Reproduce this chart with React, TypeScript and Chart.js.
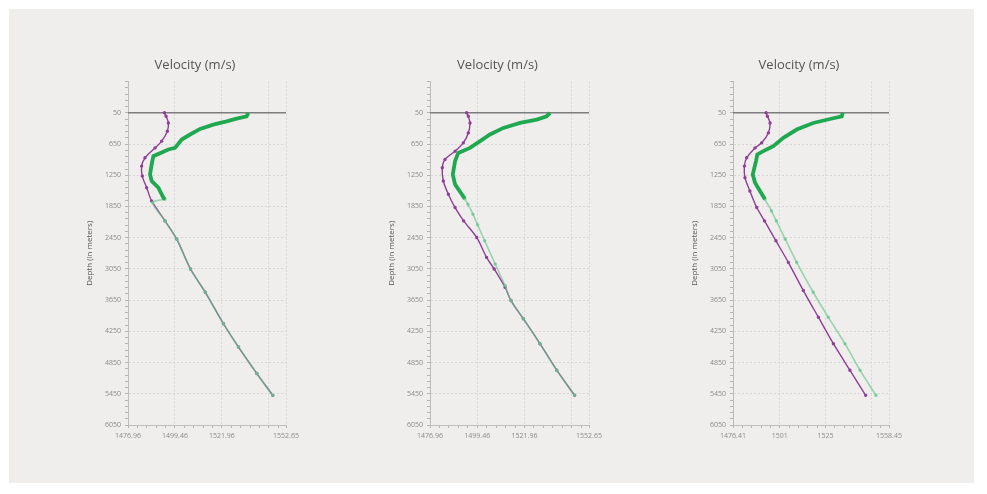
import React, { useEffect, useRef } from 'react';
import { Chart, registerables } from 'chart.js';

Chart.register(...registerables);

// ---------- shared axis data ----------
const DEPTH_MIN = -550;
const DEPTH_MAX = 6050;
const depthTicks = [50, 650, 1250, 1850, 2450, 3050, 3650, 4250, 4850, 5450, 6050];
const SURFACE_DEPTH = 50;

// ---------- panel 1 ----------
const p1VelTicks = [1476.96, 1499.46, 1521.96, 1544.46, 1552.65];
const p1VelLabels = ['1476.96', '1499.46', '1521.96', '', '1552.65'];
const p1PurpleDepth = [50, 117, 245, 404, 595, 724, 915, 1074, 1265, 1489, 1744, 2127, 2477, 3051, 3499, 4104, 4552, 5061, 5480];
const p1PurpleVel = [1494.4, 1495.2, 1496.3, 1495.8, 1493.1, 1489.9, 1485.1, 1483.5, 1483.8, 1485.9, 1488.3, 1494.7, 1500.3, 1506.9, 1514.0, 1522.7, 1529.9, 1538.7, 1546.3];
const p1MeasDepth = [50, 117, 161, 213, 276, 360, 467, 563, 724, 754, 883, 1041, 1233, 1361, 1489, 1680, 1712];
const p1MeasVel = [1534.6, 1533.8, 1529.0, 1524.2, 1517.8, 1511.5, 1506.7, 1502.7, 1499.5, 1496.3, 1489.1, 1488.3, 1487.5, 1488.3, 1491.5, 1493.9, 1494.7];
const p1ModelDepth = [1712, 1776, 2127, 2477, 3051, 3499, 4104, 4552, 5061, 5480];
const p1ModelVel = [1494.7, 1488.8, 1494.7, 1500.3, 1506.9, 1514.0, 1522.7, 1529.9, 1538.7, 1546.3];

// ---------- panel 2 ----------
const p2VelTicks = [1476.96, 1499.46, 1521.96, 1544.46, 1552.65];
const p2VelLabels = ['1476.96', '1499.46', '1521.96', '', '1552.65'];
const p2PurpleDepth = [50, 117, 245, 436, 627, 787, 946, 1106, 1361, 1616, 1871, 2127, 2446, 2829, 3051, 3403, 3658, 4008, 4487, 4997, 5480];
const p2PurpleVel = [1494.4, 1495.2, 1496.0, 1495.2, 1492.8, 1488.9, 1484.1, 1482.8, 1483.3, 1485.7, 1488.9, 1493.0, 1499.2, 1503.9, 1507.5, 1512.7, 1515.5, 1521.4, 1529.3, 1537.3, 1545.8];
const p2MeasDepth = [50, 117, 180, 245, 340, 467, 595, 724, 820, 978, 1233, 1425, 1616, 1700];
const p2MeasVel = [1534.1, 1532.5, 1527.8, 1519.8, 1511.9, 1505.5, 1500.8, 1496.0, 1490.4, 1488.9, 1487.8, 1488.9, 1492.1, 1493.5];
const p2ModelDepth = [1700, 1807, 1999, 2200, 2510, 2956, 3371, 3658, 4008, 4487, 4997, 5480];
const p2ModelVel = [1493.5, 1495.0, 1497.4, 1499.6, 1503.0, 1508.0, 1512.7, 1515.5, 1521.4, 1529.3, 1537.3, 1545.8];

// ---------- panel 3 ----------
const p3VelTicks = [1476.41, 1501, 1525, 1549, 1558.45];
const p3VelLabels = ['1476.41', '1501', '1525', '', '1558.45'];
const p3PurpleDepth = [50, 117, 245, 436, 627, 724, 915, 1074, 1297, 1553, 1871, 2127, 2510, 2924, 3466, 3978, 4487, 4997, 5480];
const p3PurpleVel = [1493.8, 1494.5, 1495.9, 1495.0, 1491.5, 1488.0, 1483.6, 1482.4, 1482.7, 1485.3, 1488.9, 1493.0, 1499.0, 1505.5, 1513.4, 1521.3, 1529.2, 1537.9, 1546.2];
const p3MeasDepth = [50, 117, 169, 245, 372, 532, 691, 754, 850, 978, 1233, 1393, 1553, 1712];
const p3MeasVel = [1534.1, 1533.6, 1527.4, 1518.6, 1509.9, 1502.9, 1497.6, 1494.1, 1489.2, 1488.5, 1486.8, 1488.0, 1490.6, 1493.2];
const p3ModelDepth = [1712, 1935, 2127, 2477, 2924, 3499, 3978, 4487, 4997, 5480];
const p3ModelVel = [1493.2, 1496.6, 1499.2, 1503.9, 1509.9, 1518.6, 1526.5, 1535.3, 1543.2, 1551.6];

const FONT = "'Open Sans', 'Noto Sans', sans-serif";
const PURPLE = '#8e3f95';
const GREEN = '#1fa84f';
const GREEN_LIGHT = 'rgba(104, 196, 138, 0.65)';

type PanelProps = {
  left: number;
  top: number;
  width: number;
  height: number;
  velTicks: number[];
  velLabels: string[];
  purpleDepth: number[];
  purpleVel: number[];
  measDepth: number[];
  measVel: number[];
  modelDepth: number[];
  modelVel: number[];
};

const zip = (xs: number[], ys: number[]) => xs.map((x, i) => ({ x, y: ys[i] }));

const near = (a: number, b: number) => Math.abs(a - b) < 1e-6;

function withMinors(majors: number[], start: number, end: number, subdiv: number) {
  const step = (majors[1] - majors[0]) / subdiv;
  const out: number[] = [];
  for (let v = majors[0] - step; v > start - 1e-6; v -= step) out.push(v);
  for (let i = 0; i < majors.length; i++) {
    out.push(majors[i]);
    const next = i + 1 < majors.length ? majors[i + 1] : end;
    for (let v = majors[i] + step; v < next - step * 0.3; v += step) out.push(v);
  }
  return out.sort((a, b) => a - b);
}

function Panel(props: PanelProps) {
  const ref = useRef<HTMLCanvasElement | null>(null);
  useEffect(() => {
    if (!ref.current) return;
    const xMin = props.velTicks[0];
    const xMax = props.velTicks[props.velTicks.length - 1];
    const xAll = withMinors(props.velTicks, xMin, xMax, 5);
    const yAll = withMinors(depthTicks, DEPTH_MIN, DEPTH_MAX, 5);
    const xIsMajor = (v: number) => props.velTicks.some((t) => near(t, v));
    const yIsMajor = (v: number) => depthTicks.some((t) => near(t, v));

    const chart = new Chart(ref.current, {
      type: 'line',
      data: {
        datasets: [
          {
            label: 'measured',
            data: zip(props.measVel, props.measDepth),
            borderColor: GREEN,
            backgroundColor: GREEN,
            borderWidth: 3.8,
            pointRadius: 0,
            tension: 0,
            order: 0,
          },
          {
            label: 'model',
            data: zip(props.modelVel, props.modelDepth),
            borderColor: GREEN_LIGHT,
            backgroundColor: GREEN_LIGHT,
            borderWidth: 1.6,
            pointRadius: 1,
            tension: 0.3,
            order: 1,
          },
          {
            label: 'profile',
            data: zip(props.purpleVel, props.purpleDepth),
            borderColor: PURPLE,
            backgroundColor: PURPLE,
            borderWidth: 1.4,
            pointRadius: 1,
            tension: 0.3,
            order: 2,
          },
          {
            label: 'surface',
            data: [
              { x: xMin, y: SURFACE_DEPTH },
              { x: xMax, y: SURFACE_DEPTH },
            ],
            borderColor: '#7d7d7d',
            borderWidth: 1.5,
            pointRadius: 0,
            order: 3,
          },
        ],
      },
      options: {
        animation: false,
        responsive: true,
        maintainAspectRatio: false,
        layout: { padding: { left: 0, right: 0, top: 0, bottom: 0 } },
        plugins: {
          legend: { display: false },
          tooltip: { enabled: false },
          title: {
            display: true,
            text: 'Velocity (m/s)',
            color: '#555555',
            font: { family: FONT, size: 13, weight: 'normal' },
            padding: { top: 7, bottom: 9 },
          },
        },
        scales: {
          x: {
            type: 'linear',
            min: xMin,
            max: xMax,
            afterBuildTicks: (scale: any) => {
              scale.ticks = xAll.map((v) => ({ value: v }));
            },
            afterFit: (scale: any) => {
              scale.height = 25;
            },
            ticks: {
              autoSkip: false,
              maxRotation: 0,
              padding: 4,
              color: '#8a8a8a',
              font: { family: FONT, size: 7 },
              callback: (value: any) => {
                const i = props.velTicks.findIndex((t) => near(t, Number(value)));
                return i >= 0 ? props.velLabels[i] : '';
              },
            },
            grid: {
              color: (ctx: any) => (ctx.tick && xIsMajor(ctx.tick.value) ? '#d6d6d6' : 'rgba(0,0,0,0)'),
              tickColor: '#b5b5b5',
              tickLength: 3,
              lineWidth: 1,
            },
            border: { display: true, color: '#bdbdbd', width: 1, dash: [2, 2] },
          },
          y: {
            type: 'linear',
            reverse: true,
            min: DEPTH_MIN,
            max: DEPTH_MAX,
            afterBuildTicks: (scale: any) => {
              scale.ticks = yAll.map((v) => ({ value: v }));
            },
            afterFit: (scale: any) => {
              scale.width = 43;
            },
            title: {
              display: true,
              text: 'Depth (in meters)',
              color: '#555555',
              font: { family: FONT, size: 8 },
              padding: { top: 0, bottom: 0 },
            },
            ticks: {
              autoSkip: false,
              padding: 4,
              color: '#8a8a8a',
              font: { family: FONT, size: 7 },
              callback: (value: any) => {
                const v = Number(value);
                return yIsMajor(v) ? String(Math.round(v)) : '';
              },
            },
            grid: {
              color: (ctx: any) => (ctx.tick && yIsMajor(ctx.tick.value) ? '#d6d6d6' : 'rgba(0,0,0,0)'),
              tickColor: '#b5b5b5',
              tickLength: 3,
              lineWidth: 1,
            },
            border: { display: true, color: '#bdbdbd', width: 1, dash: [2, 2] },
          },
          spacer: {
            type: 'linear',
            position: 'right',
            display: true,
            afterFit: (scale: any) => {
              scale.width = 19;
            },
            ticks: { display: false },
            grid: { display: false, drawTicks: false },
            border: { display: false },
          },
        },
      },
    } as any);
    return () => chart.destroy();
  }, []);

  return (
    <div
      style={{
        position: 'absolute',
        left: props.left,
        top: props.top,
        width: props.width,
        height: props.height,
      }}
    >
      <canvas ref={ref} />
    </div>
  );
}

export default function App() {
  return (
    <div
      style={{
        position: 'fixed',
        left: 0,
        top: 0,
        width: 987,
        height: 494,
        background: '#ffffff',
        overflow: 'hidden',
      }}
    >
      <div
        style={{
          position: 'absolute',
          left: 9,
          top: 9,
          width: 965,
          height: 474,
          background: '#efeeec',
        }}
      />
      <Panel
        left={85}
        top={50}
        width={220}
        height={400}
        velTicks={p1VelTicks}
        velLabels={p1VelLabels}
        purpleDepth={p1PurpleDepth}
        purpleVel={p1PurpleVel}
        measDepth={p1MeasDepth}
        measVel={p1MeasVel}
        modelDepth={p1ModelDepth}
        modelVel={p1ModelVel}
      />
      <Panel
        left={387}
        top={50}
        width={221}
        height={400}
        velTicks={p2VelTicks}
        velLabels={p2VelLabels}
        purpleDepth={p2PurpleDepth}
        purpleVel={p2PurpleVel}
        measDepth={p2MeasDepth}
        measVel={p2MeasVel}
        modelDepth={p2ModelDepth}
        modelVel={p2ModelVel}
      />
      <Panel
        left={690}
        top={50}
        width={218}
        height={400}
        velTicks={p3VelTicks}
        velLabels={p3VelLabels}
        purpleDepth={p3PurpleDepth}
        purpleVel={p3PurpleVel}
        measDepth={p3MeasDepth}
        measVel={p3MeasVel}
        modelDepth={p3ModelDepth}
        modelVel={p3ModelVel}
      />
    </div>
  );
}
